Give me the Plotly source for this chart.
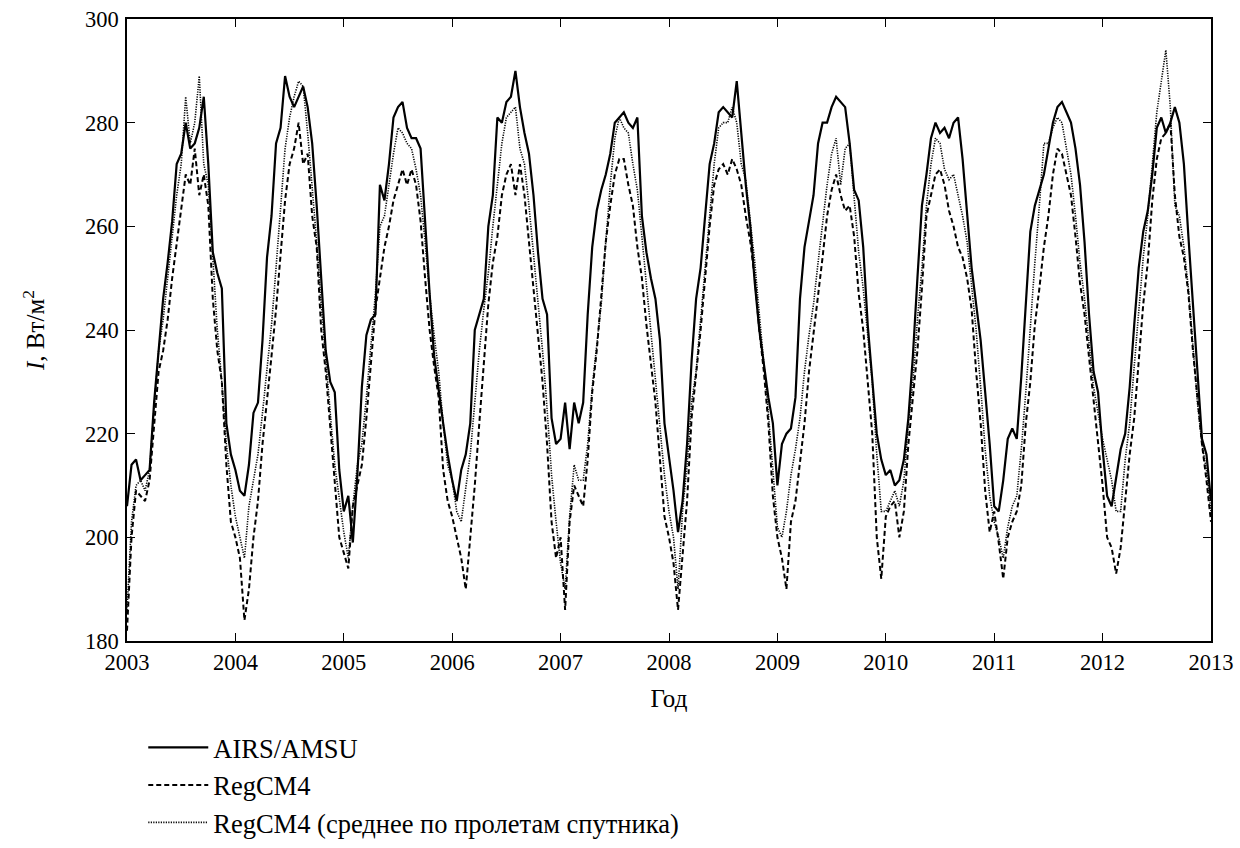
import plotly.graph_objects as go

# ---- data, 24 samples per year, 2003.0 .. 2013.0 ----
start_year = 2003
end_year = 2013
samples_per_year = 24
year_ticks = list(range(2003, 2014))
y_ticks = [180, 200, 220, 240, 260, 280, 300]

airs = [
    206, 214, 215, 211, 212, 213, 226, 236, 246, 253, 261, 272, 274, 280, 275, 276, 279, 285, 272, 255, 251, 248, 222, 216,  # 2003
    213, 209, 208, 214, 224, 226, 238, 254, 262, 276, 279, 289, 285, 283, 285, 287, 283, 276, 264, 250, 236, 230, 228, 213,  # 2004
    205, 208, 199, 212, 229, 239, 242, 243, 268, 265, 272, 281, 283, 284, 279, 277, 277, 275, 260, 247, 235, 229, 222, 216,  # 2005
    211, 207, 213, 216, 222, 240, 243, 246, 260, 266, 281, 280, 284, 285, 290, 283, 278, 274, 266, 255, 246, 243, 223, 218,  # 2006
    219, 226, 217, 226, 222, 226, 243, 256, 263, 267, 270, 274, 280, 281, 282, 280, 279, 281, 262, 255, 250, 246, 238, 222,  # 2007
    216, 209, 201, 207, 218, 234, 246, 252, 262, 272, 276, 282, 283, 282, 281, 288, 278, 268, 260, 249, 240, 233, 227, 222,  # 2008
    210, 218, 220, 221, 227, 246, 256, 261, 266, 276, 280, 280, 283, 285, 284, 283, 276, 267, 265, 256, 241, 231, 220, 215,  # 2009
    212, 213, 210, 211, 215, 223, 235, 250, 264, 270, 277, 280, 278, 279, 277, 280, 281, 273, 263, 252, 245, 238, 228, 218,  # 2010
    206, 205, 211, 219, 221, 219, 231, 244, 259, 264, 267, 270, 275, 280, 283, 284, 282, 280, 275, 268, 257, 243, 232, 228,  # 2011
    217, 208, 206, 212, 217, 220, 229, 241, 252, 259, 263, 270, 279, 281, 278, 280, 283, 280, 272, 258, 244, 232, 219, 216,  # 2012
    207,  # 2013.0
]

regcm = [
    182, 200, 209, 208, 207, 211, 222, 232, 236, 242, 250, 257, 264, 270, 268, 275, 266, 270, 264, 246, 236, 230, 214, 203,  # 2003
    200, 196, 184, 190, 200, 207, 218, 226, 235, 244, 254, 265, 272, 275, 280, 272, 274, 262, 256, 240, 232, 221, 211, 200,  # 2004
    197, 194, 206, 210, 214, 223, 233, 244, 250, 256, 260, 265, 268, 271, 268, 271, 268, 261, 250, 240, 233, 227, 213, 207,  # 2005
    204, 200, 196, 190, 200, 210, 222, 233, 245, 253, 258, 266, 270, 272, 266, 272, 266, 257, 248, 238, 230, 218, 203, 196,  # 2006
    200, 186, 203, 210, 208, 206, 215, 228, 236, 247, 257, 264, 270, 273, 273, 268, 264, 256, 250, 241, 234, 226, 215, 204,  # 2007
    200, 195, 186, 196, 207, 223, 231, 240, 250, 260, 268, 271, 272, 270, 273, 271, 268, 262, 257, 250, 240, 232, 222, 208,  # 2008
    200, 196, 190, 203, 207, 214, 222, 232, 239, 246, 254, 262, 267, 270, 266, 263, 264, 258, 247, 240, 230, 220, 200, 192,  # 2009
    204, 206, 207, 200, 205, 218, 227, 236, 248, 262, 266, 270, 271, 268, 263, 260, 256, 254, 250, 244, 232, 222, 209, 201,  # 2010
    205, 199, 192, 200, 203, 205, 210, 222, 230, 241, 248, 256, 262, 270, 275, 274, 270, 266, 258, 249, 243, 235, 226, 218,  # 2011
    210, 200, 198, 193, 198, 207, 216, 223, 234, 245, 253, 265, 273, 277, 278, 280, 266, 258, 254, 247, 236, 227, 218, 211,  # 2012
    203,  # 2013.0
]

regcm_sat = [
    186, 203, 210, 211, 209, 213, 225, 236, 242, 250, 258, 266, 272, 285, 276, 280, 289, 272, 268, 255, 240, 230, 218, 210,  # 2003
    204, 200, 196, 206, 211, 216, 224, 232, 241, 252, 264, 275, 281, 285, 288, 287, 278, 268, 257, 245, 234, 224, 214, 207,  # 2004
    201, 196, 206, 214, 218, 227, 237, 247, 260, 262, 268, 274, 279, 278, 276, 275, 271, 266, 257, 247, 239, 232, 222, 214,  # 2005
    211, 205, 203, 210, 216, 226, 236, 244, 251, 260, 268, 276, 281, 282, 283, 275, 272, 264, 255, 245, 236, 225, 212, 203,  # 2006
    195, 190, 204, 214, 211, 211, 218, 229, 237, 245, 257, 268, 277, 281, 279, 278, 272, 267, 258, 249, 240, 230, 222, 212,  # 2007
    205, 200, 190, 205, 214, 226, 232, 242, 252, 263, 272, 279, 280, 280, 283, 280, 272, 269, 261, 253, 243, 234, 224, 213,  # 2008
    202, 200, 205, 212, 217, 223, 232, 239, 245, 253, 261, 268, 274, 277, 268, 275, 276, 266, 255, 248, 239, 230, 216, 205,  # 2009
    205, 207, 209, 206, 211, 222, 230, 242, 252, 264, 272, 277, 276, 271, 269, 270, 266, 262, 257, 249, 240, 229, 217, 208,  # 2010
    203, 200, 196, 202, 206, 208, 217, 228, 241, 253, 264, 276, 276, 279, 281, 280, 275, 270, 262, 253, 246, 238, 229, 224,  # 2011
    219, 215, 211, 205, 205, 215, 222, 233, 244, 254, 262, 272, 282, 288, 294, 283, 264, 262, 256, 248, 237, 226, 218, 213,  # 2012
    205,  # 2013.0
]

n = (end_year - start_year) * samples_per_year + 1
t = [start_year + i / samples_per_year for i in range(n)]

FONT = "Liberation Serif, Times New Roman, Times, serif"
TICK_FS = 22.5
TITLE_FS = 25
LEG_FS = 26.5

fig = go.Figure()
fig.add_trace(go.Scatter(x=t, y=airs, mode="lines", name="AIRS/AMSU",
                         legendgroup="a", line=dict(color="black", width=2.2)))
fig.add_trace(go.Scatter(x=t, y=regcm, mode="lines", name="RegCM4",
                         legendgroup="b", line=dict(color="black", width=2, dash="5px,3px")))
fig.add_trace(go.Scatter(x=t, y=regcm_sat, mode="lines",
                         name="RegCM4 (среднее по пролетам спутника)",
                         legendgroup="c", line=dict(color="black", width=1.6, dash="1.2px,1.3px")))

axis_common = dict(showline=True, linecolor="black", linewidth=1.6, mirror="ticks",
                   ticks="inside", ticklen=8, tickwidth=1.4, tickcolor="black",
                   showgrid=False, zeroline=False, automargin=False,
                   tickfont=dict(family=FONT, size=TICK_FS, color="black"))

fig.update_layout(
    width=1240, height=848,
    paper_bgcolor="white", plot_bgcolor="white",
    margin=dict(l=127, r=29, t=19, b=207, autoexpand=False),
    font=dict(family=FONT, size=TICK_FS, color="black"),
    xaxis=dict(range=[start_year, end_year], tickvals=year_ticks,
               ticktext=[str(y) for y in year_ticks],
               title=dict(text="Год", standoff=16, font=dict(family=FONT, size=TITLE_FS)),
               ticklabelstandoff=0, **axis_common),
    yaxis=dict(range=[180, 300], tickvals=y_ticks,
               title=dict(text="<i>I</i>, Вт/м<sup>2</sup>", standoff=33,
                          font=dict(family=FONT, size=TITLE_FS)),
               ticklabelstandoff=2, **axis_common),
    showlegend=True,
    legend=dict(x=0.015, xanchor="left", y=-0.133, yanchor="top",
                orientation="v", tracegroupgap=0, itemwidth=60,
                bgcolor="rgba(0,0,0,0)", font=dict(family=FONT, size=LEG_FS)),
)

# remove the default 8px page margin so the figure sits at the window's top-left corner
fig.write_html("out.html", config={"displayModeBar": False},
               post_script="document.body.style.margin='0';")
